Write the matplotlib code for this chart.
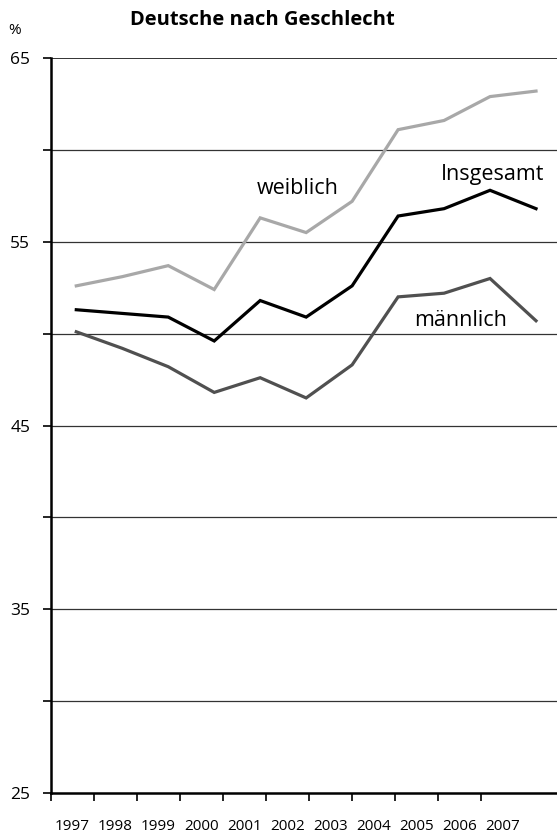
import matplotlib
matplotlib.use("Agg")
import matplotlib.pyplot as plt
import numpy as np

years = ["1997", "1998", "1999", "2000", "2001", "2002", "2003", "2004", "2005", "2006", "2007"]
weiblich = [52.6, 53.1, 53.7, 52.4, 56.3, 55.5, 57.2, 61.1, 61.6, 62.9, 63.2]
insgesamt = [51.3, 51.1, 50.9, 49.6, 51.8, 50.9, 52.6, 56.4, 56.8, 57.8, 56.8]
maennlich = [50.1, 49.2, 48.2, 46.8, 47.6, 46.5, 48.3, 52.0, 52.2, 53.0, 50.7]
ytick_labels = ["25", "", "35", "", "45", "", "55", "", "65"]

plt.rcParams['font.family'] = ['Open Sans', 'DejaVu Sans']

W, H = 557, 839
fig = plt.figure(figsize=(W / 100, H / 100), dpi=100)
ax = fig.add_axes([51 / W, (H - 793) / H, (W - 51) / W, (793 - 58) / H])

x = np.arange(len(years))
ax.plot(x, weiblich, color="#a8a8a8", lw=2.3, solid_joinstyle="miter")
ax.plot(x, insgesamt, color="#000000", lw=2.3, solid_joinstyle="miter")
ax.plot(x, maennlich, color="#505050", lw=2.3, solid_joinstyle="miter")

# pixel geometry of the original category axis
px0, pstep = 76.0, 46.0        # data points
tick0, tstep = 50.7, 43.05     # category boundaries
to_data = lambda p: (p - px0) / pstep
to_val = lambda py: 55 - (py - 242.7) / 18.33
ax.set_xlim(to_data(51), to_data(W))
ax.set_ylim(25, 65)

ticks = [to_data(tick0 + k * tstep) for k in range(len(years))]
mids = [to_data(tick0 + (k + 0.5) * tstep) for k in range(len(years))]
ax.set_xticks(ticks)
ax.set_xticklabels([])
ax.set_xticks(mids, minor=True)
ax.set_xticklabels(years, minor=True, fontsize=11)
ax.tick_params(axis="x", which="major", length=6, width=1.2, color="black", direction="out")
ax.tick_params(axis="x", which="minor", length=0, pad=19)

ax.set_yticks(np.arange(25, 66, 5))
ax.set_yticklabels(ytick_labels, fontsize=12.5)
ax.tick_params(axis="y", length=6, width=1.2, pad=9)

for v in range(30, 61, 5):
    ax.axhline(v, color="#333333", lw=0.9, zorder=0)
ax.axhline(65, color="#111111", lw=1.2, zorder=0)

for s in ["top", "right"]:
    ax.spines[s].set_visible(False)
ax.spines["left"].set_linewidth(1.8)
ax.spines["bottom"].set_linewidth(1.8)

ax.text(to_data(298), to_val(190), "weiblich", fontsize=15.5, ha="center", va="center")
ax.text(to_data(493), to_val(176), "Insgesamt", fontsize=15.5, ha="center", va="center")
ax.text(to_data(461), to_val(321), "männlich", fontsize=15.5, ha="center", va="center")

fig.text(262 / W, 1 - 20 / H, "Deutsche nach Geschlecht", fontsize=14.5, fontweight="bold",
         ha="center", va="center")
fig.text(15 / W, 1 - 31 / H, "%", fontsize=11, ha="center", va="center")

fig.savefig("out.png", dpi=100)
